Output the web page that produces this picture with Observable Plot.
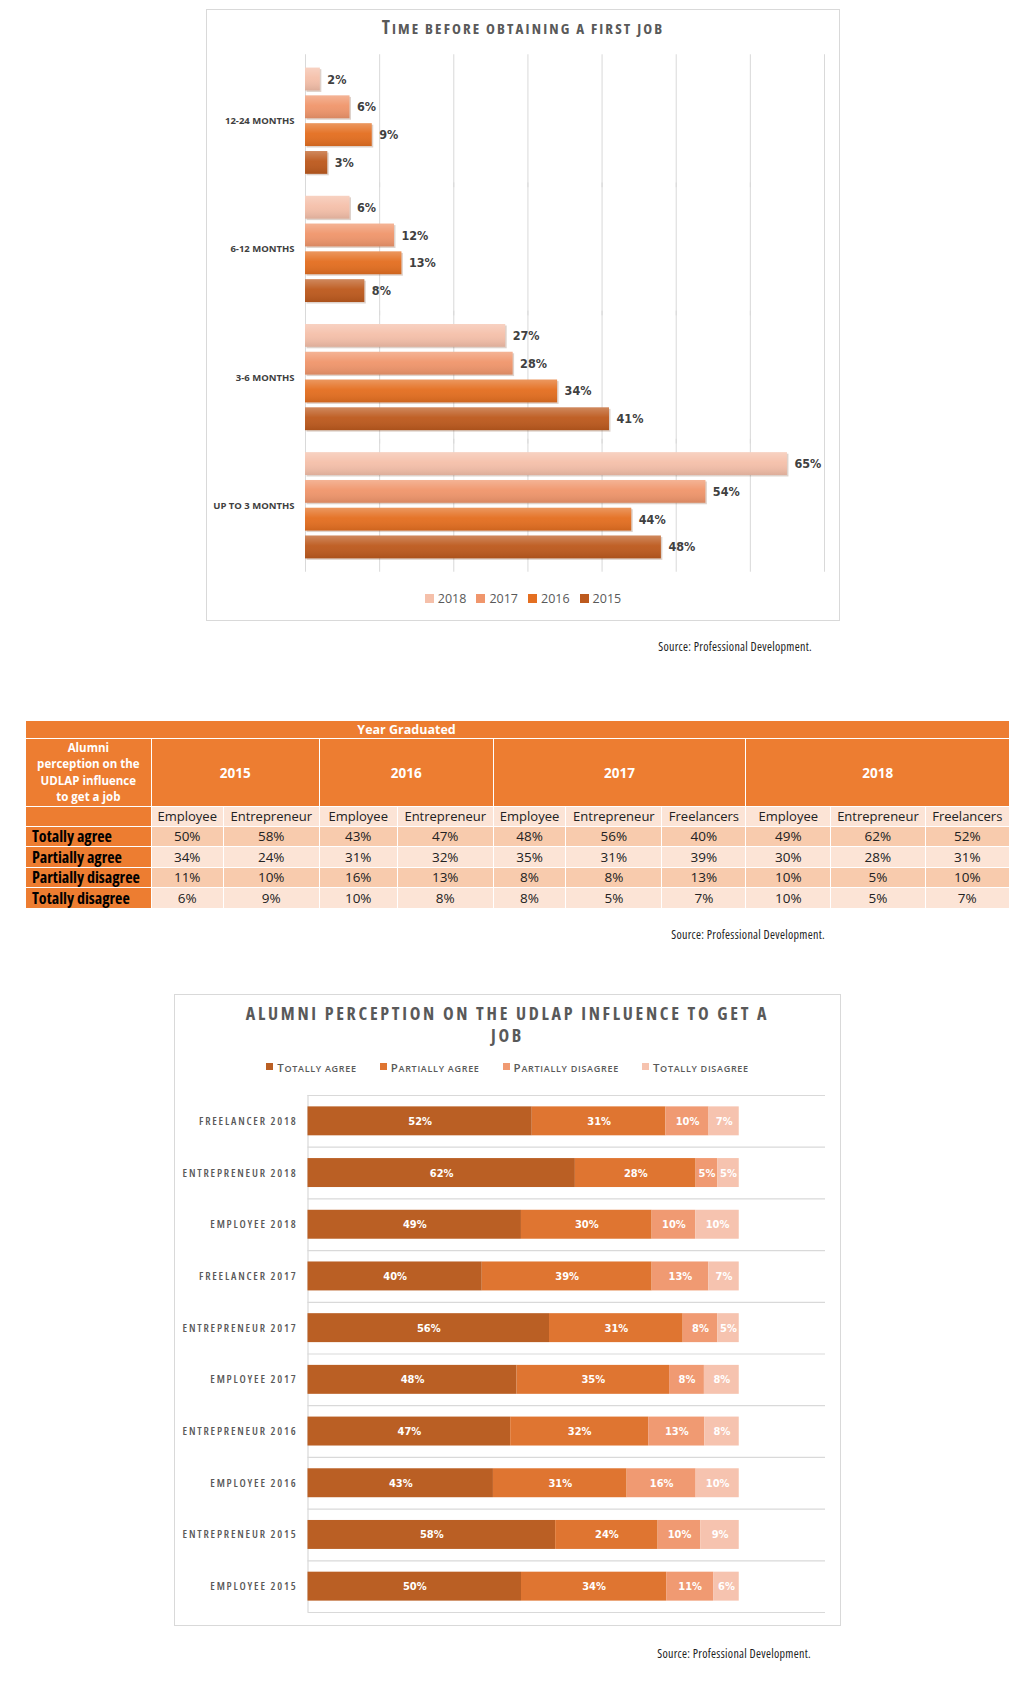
<!DOCTYPE html>
<html><head><meta charset="utf-8">
<script src="https://cdn.jsdelivr.net/npm/d3@7"></script>
<script src="https://cdn.jsdelivr.net/npm/@observablehq/plot@0.6"></script>
<style>
body{margin:0;background:#fff;width:1036px;height:1691px;position:relative;overflow:hidden;font-family:"Open Sans",sans-serif;}
.box{position:absolute;border:1px solid #d9d9d9;box-sizing:border-box;}
.abs{position:absolute;}
.title1{left:206px;width:634px;top:15px;text-align:center;font-weight:bold;line-height:24px;color:#595959;letter-spacing:2.1px;font-stretch:75%;}
.title1 .b{font-size:19px;} .title1 .s{font-size:15px;}
.title3{left:174px;width:667px;top:1002px;text-align:center;font-weight:bold;font-size:18px;line-height:22px;color:#595959;letter-spacing:2.7px;font-stretch:75%;}
.legend{display:flex;justify-content:center;align-items:center;}
.legend .item{display:flex;align-items:center;white-space:nowrap;}
.legend .sw{display:inline-block;}
.leg1{left:206px;width:634px;top:590px;font-size:12.5px;color:#595959;}
.leg1 .sw{width:9px;height:9px;margin-right:4px;}
.leg1 .item{margin:0 5px;}
.leg3{left:174px;width:667px;top:1055px;color:#595959;font-weight:600;letter-spacing:0.7px;}
.leg3 .b{font-size:11.5px;} .leg3 .s{font-size:9px;}
.leg3 .sw{width:7px;height:7px;margin-right:4px;}
.leg3 .item{margin:0 11.5px;}
.source{font-size:12px;color:#222;white-space:nowrap;font-stretch:75%;letter-spacing:0.3px;}
#tbl{position:absolute;left:25px;top:720px;border-collapse:collapse;table-layout:fixed;width:984px;font-family:"Open Sans",sans-serif;}
#tbl td{padding:0;border:1.5px solid #fff;text-align:center;overflow:hidden;white-space:nowrap;}
#tbl td.or{background:#ed7d31;color:#fff;font-weight:bold;}
#tbl td.lab{background:#ed7d31;color:#000;font-weight:bold;text-align:left;padding-left:6px;font-stretch:75%;font-size:16px;line-height:18px;}
#tbl td.v{font-size:13.5px;color:#222;}
#tbl td.role{font-size:13px;color:#222;background:#fce4d6;}
</style></head><body>
<script>
// ---------- Chart 1 data ----------
const periods = ["12-24 MONTHS", "6-12 MONTHS", "3-6 MONTHS", "UP TO 3 MONTHS"];
const years = ["2018", "2017", "2016", "2015"];
const yearColors = ["#f5c0aa", "#f0966c", "#e46f21", "#bd5a1e"];
const share2018 = [2, 6, 27, 65];
const share2017 = [6, 12, 28, 54];
const share2016 = [9, 13, 34, 44];
const share2015 = [3, 8, 41, 48];
const xTicks = [0, 10, 20, 30, 40, 50, 60, 70];

// ---------- Table / chart 3 data ----------
const gradYears = ["2015", "2016", "2017", "2018"];
const columnYears = ["2015","2015","2016","2016","2017","2017","2017","2018","2018","2018"];
const columnRoles = ["Employee","Entrepreneur","Employee","Entrepreneur","Employee","Entrepreneur","Freelancers","Employee","Entrepreneur","Freelancers"];
const responses = ["Totally agree", "Partially agree", "Partially disagree", "Totally disagree"];
const responseColors = ["#ba5f24", "#df7531", "#f09a72", "#f6c3af"];
const totallyAgree      = [50, 58, 43, 47, 48, 56, 40, 49, 62, 52];
const partiallyAgree    = [34, 24, 31, 32, 35, 31, 39, 30, 28, 31];
const partiallyDisagree = [11, 10, 16, 13, 8, 8, 13, 10, 5, 10];
const totallyDisagree   = [6, 9, 10, 8, 8, 5, 7, 10, 5, 7];
const barLabels = ["EMPLOYEE 2015","ENTREPRENEUR 2015","EMPLOYEE 2016","ENTREPRENEUR 2016","EMPLOYEE 2017","ENTREPRENEUR 2017","FREELANCER 2017","EMPLOYEE 2018","ENTREPRENEUR 2018","FREELANCER 2018"];
const sourceText = "Source: Professional Development.";

const NUMFONT = '"DejaVu Sans Condensed","DejaVu Sans",sans-serif';
const LABFONT = '"Open Sans",sans-serif';
const body = document.body;
function el(tag, cls, html, style) {
  const e = document.createElement(tag);
  if (cls) e.className = cls;
  if (html != null) e.innerHTML = html;
  if (style) Object.assign(e.style, style);
  body.appendChild(e);
  return e;
}
// small caps: original capitals big, others uppercase small
function smallCaps(str) {
  return "<span>" + [...str].map(ch => ch !== ch.toLowerCase() ? `<span class="b">${ch}</span>` : `<span class="s">${ch.toUpperCase()}</span>`).join("") + "</span>";
}

// ---------- Chart 1 ----------
el("div", "box", null, {left: "206px", top: "9px", width: "634px", height: "612px"});
el("div", "abs title1", smallCaps("Time before obtaining a first job"));

const shares = [share2018, share2017, share2016, share2015];
const timeData = periods.flatMap((p, i) => years.map((y, j) => ({period: p, year: y, value: shares[j][i]})));

const plot1 = Plot.plot({
  width: 634, height: 534,
  marginLeft: 99, marginRight: 16, marginTop: 10, marginBottom: 10,
  x: {domain: [0, 70], axis: null},
  y: {domain: years, axis: null, paddingInner: 0.18, paddingOuter: 0.05, round: false},
  fy: {domain: periods, axis: null, paddingInner: 0.15, paddingOuter: 0.08, round: false},
  color: {domain: years, range: yearColors},
  style: {fontFamily: NUMFONT, background: "transparent", overflow: "visible"},
  marks: [
    Plot.ruleX(xTicks, {x: d => d, stroke: "#d9d9d9", strokeWidth: 1, insetTop: -12, insetBottom: -12}),
    Plot.barX(timeData, {x: "value", y: "year", fy: "period", fill: "#6b3010", fillOpacity: 0.22, dx: 1.5, dy: 1.5}),
    Plot.barX(timeData, {x: "value", y: "year", fy: "period", fill: "year"}),
    Plot.barX(timeData, {x: "value", y: "year", fy: "period", fill: "url(#bevel)"}),
    Plot.text(timeData, {x: "value", y: "year", fy: "period", text: d => d.value + "%", dx: 7, textAnchor: "start", fontWeight: "bold", fontSize: 12.5, fill: "#404040"}),
    Plot.text(periods, {fy: d => d, text: d => d, frameAnchor: "left", dx: -11, textAnchor: "end", fontFamily: LABFONT, fontWeight: "bold", fontSize: 9.5, fill: "#404040"})
  ]
});
d3.select(plot1).insert("defs", ":first-child").html(
  '<linearGradient id="bevel" x1="0" y1="0" x2="0" y2="1">' +
  '<stop offset="0" stop-color="#fff" stop-opacity="0.28"/>' +
  '<stop offset="0.45" stop-color="#fff" stop-opacity="0.04"/>' +
  '<stop offset="1" stop-color="#000" stop-opacity="0.1"/></linearGradient>');
Object.assign(plot1.style, {position: "absolute", left: "206px", top: "46px"});
body.appendChild(plot1);

const leg1 = el("div", "abs legend leg1");
years.forEach((y, i) => {
  const it = document.createElement("span"); it.className = "item";
  it.innerHTML = `<span class="sw" style="background:${yearColors[i]}"></span><span>${y}</span>`;
  leg1.appendChild(it);
});
el("div", "abs source", sourceText, {right: "224px", top: "638px"});

// ---------- Table ----------
const tbl = el("table", null, null); tbl.id = "tbl";
const widths = [125.7, 72.1, 95.9, 78.1, 95.9, 72.8, 95.9, 84.1, 84.7, 94.6, 84.2];
const cg = document.createElement("colgroup");
widths.forEach(w => { const c = document.createElement("col"); c.style.width = w + "px"; cg.appendChild(c); });
tbl.appendChild(cg);
function row(h) { const tr = document.createElement("tr"); tr.style.height = h + "px"; tbl.appendChild(tr); return tr; }
function cell(tr, cls, html, span, style) {
  const td = document.createElement("td");
  if (cls) td.className = cls;
  if (html != null) td.innerHTML = html;
  if (span) td.colSpan = span;
  if (style) Object.assign(td.style, style);
  tr.appendChild(td); return td;
}
let tr = row(17);
cell(tr, "or", "", 1, {borderRight: "none"});
cell(tr, "or", "Year Graduated", 6, {borderLeft: "none", borderRight: "none", fontSize: "12.5px"});
cell(tr, "or", "", 4, {borderLeft: "none"});
tr = row(68);
cell(tr, "or", "Alumni<br>perception on the<br>UDLAP influence<br>to get a job", 1, {fontSize: "11.5px", lineHeight: "16.5px", whiteSpace: "normal"});
gradYears.forEach(y => {
  const n = columnYears.filter(c => c === y).length;
  cell(tr, "or", y, n, {fontSize: "13.5px"});
});
tr = row(19.5);
cell(tr, "or", "");
columnRoles.forEach(r => cell(tr, "role", r));
const series = [totallyAgree, partiallyAgree, partiallyDisagree, totallyDisagree];
responses.forEach((r, k) => {
  tr = row(20.5);
  cell(tr, "lab", r);
  const bg = k % 2 === 0 ? "#f8cbad" : "#fce4d6";
  series[k].forEach(v => cell(tr, "v", v + "%", 1, {background: bg}));
});
el("div", "abs source", sourceText, {right: "211px", top: "926px"});

// ---------- Chart 3 ----------
el("div", "box", null, {left: "174px", top: "994px", width: "667px", height: "632px"});
el("div", "abs title3", "ALUMNI PERCEPTION ON THE UDLAP INFLUENCE TO GET A<br>JOB");
const leg3 = el("div", "abs legend leg3");
responses.forEach((r, i) => {
  const it = document.createElement("span"); it.className = "item";
  it.innerHTML = `<span class="sw" style="background:${responseColors[i]}"></span>${smallCaps(r)}`;
  leg3.appendChild(it);
});

const perceptionData = barLabels.flatMap((c, i) => responses.map((r, k) => ({cat: c, response: r, value: series[k][i]})));
const catOrder = barLabels.slice().reverse();
const plotH3 = 537, mT3 = 10, mB3 = 10;
const step3 = (plotH3 - mT3 - mB3) / catOrder.length;
const plot3 = Plot.plot({
  width: 667, height: plotH3,
  marginLeft: 133.5, marginRight: 16, marginTop: mT3, marginBottom: mB3,
  x: {domain: [0, 1.2], axis: null},
  y: {domain: catOrder, axis: null, paddingInner: 0.44, paddingOuter: 0.22, round: false},
  color: {domain: responses, range: responseColors},
  style: {fontFamily: NUMFONT, background: "transparent", overflow: "visible"},
  marks: [
    Plot.ruleY(catOrder, {y: d => d, dy: -step3 / 2, stroke: "#d9d9d9", strokeWidth: 1.2}),
    Plot.ruleY(catOrder.slice(-1), {y: d => d, dy: step3 / 2, stroke: "#d9d9d9", strokeWidth: 1.2}),
    Plot.ruleX([0], {stroke: "#d9d9d9", strokeWidth: 1.2}),
    Plot.barX(perceptionData, Plot.stackX({x: "value", y: "cat", fill: "response", order: responses, offset: "normalize"})),
    Plot.text(perceptionData, Plot.stackX({x: "value", y: "cat", z: "response", order: responses, offset: "normalize", text: d => d.value + "%", fill: "white", fontWeight: "bold", fontSize: 11})),
    Plot.text(catOrder, {y: d => d, text: d => d, frameAnchor: "left", dx: -10.5, textAnchor: "end", fill: "#595959", fontFamily: LABFONT, fontWeight: 600, fontSize: 11})
  ]
});
// condensed, letter-spaced row labels
d3.select(plot3).selectAll("text")
  .filter(function() { return catOrder.includes(this.textContent); })
  .style("letter-spacing", "1.8px").style("font-stretch", "75%");
Object.assign(plot3.style, {position: "absolute", left: "174px", top: "1085px"});
body.appendChild(plot3);
el("div", "abs source", sourceText, {right: "225px", top: "1645px"});
</script>
</body></html>
